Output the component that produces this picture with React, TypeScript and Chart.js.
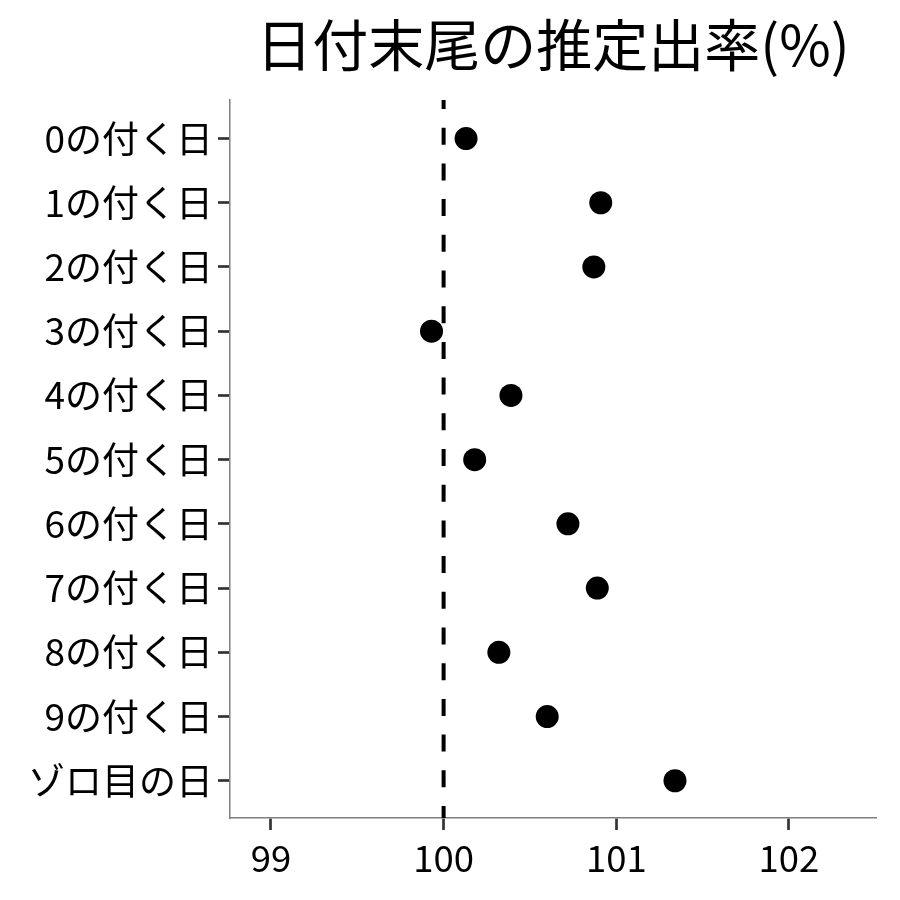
import { useEffect, useRef } from "react";
import { Chart, registerables } from "chart.js";

Chart.register(...registerables);

// data
const categories = [
  "0の付く日",
  "1の付く日",
  "2の付く日",
  "3の付く日",
  "4の付く日",
  "5の付く日",
  "6の付く日",
  "7の付く日",
  "8の付く日",
  "9の付く日",
  "ゾロ目の日",
];
const rates = [100.13, 100.91, 100.87, 99.93, 100.39, 100.18, 100.72, 100.89, 100.32, 100.6, 101.34];
const xTickValues = [99, 100, 101, 102];
const baseline = 100;

const FONT = "'Noto Sans CJK JP', 'Noto Sans', sans-serif";

export default function App() {
  const canvasRef = useRef<HTMLCanvasElement>(null);
  const chartRef = useRef<Chart | null>(null);

  useEffect(() => {
    document.body.style.margin = "0";
    const ctx = canvasRef.current?.getContext("2d");
    if (!ctx) return;
    if (chartRef.current) chartRef.current.destroy();

    const yMin = -0.6;
    const yMax = categories.length - 1 + 0.58;

    chartRef.current = new Chart(ctx, {
      type: "scatter",
      data: {
        datasets: [
          {
            label: "rate",
            data: rates.map((v, i) => ({ x: v, y: i })),
            backgroundColor: "#000",
            borderWidth: 0,
            pointRadius: 11.5,
            order: 0,
          },
          {
            type: "line",
            label: "baseline",
            data: [
              { x: baseline, y: yMin },
              { x: baseline, y: yMax },
            ],
            borderColor: "#000",
            borderWidth: 4,
            borderDash: [17, 18.7],
            borderDashOffset: 8,
            pointRadius: 0,
            order: 1,
          } as any,
        ],
      },
      options: {
        responsive: false,
        animation: false,
        devicePixelRatio: 1,
        layout: { padding: { left: 0, right: 24, top: 0, bottom: 0 } },
        plugins: {
          legend: { display: false },
          tooltip: { enabled: false },
          title: {
            display: true,
            text: "日付末尾の推定出率(%)",
            fullSize: false,
            color: "#000",
            font: { family: FONT, size: 56, weight: "normal", lineHeight: 1.2 },
            padding: { top: 11, bottom: 21.8 },
          },
        },
        scales: {
          x: {
            type: "linear",
            min: 98.763,
            max: 102.504,
            afterBuildTicks: (scale: any) => {
              scale.ticks = xTickValues.map((v) => ({ value: v }));
            },
            afterFit: (scale: any) => {
              scale.height = 82;
            },
            grid: {
              display: true,
              drawOnChartArea: false,
              drawTicks: true,
              tickLength: 12,
              tickColor: "#333",
              tickWidth: 2.7,
            },
            border: { display: true, color: "#7f7f7f", width: 1.5 },
            ticks: {
              color: "#000",
              padding: 6,
              font: { family: FONT, size: 36.5 },
              callback: (v: any) => String(v),
            },
          },
          y: {
            type: "linear",
            min: yMin,
            max: yMax,
            reverse: true,
            afterBuildTicks: (scale: any) => {
              scale.ticks = categories.map((_, i) => ({ value: i }));
            },
            afterFit: (scale: any) => {
              scale.width = 230;
            },
            grid: {
              display: true,
              drawOnChartArea: false,
              drawTicks: true,
              tickLength: 12,
              tickColor: "#333",
              tickWidth: 2.7,
            },
            border: { display: true, color: "#7f7f7f", width: 1.5 },
            ticks: {
              color: "#000",
              padding: 5,
              font: { family: FONT, size: 37 },
              callback: (v: any) => categories[Math.round(Number(v))] ?? "",
            },
          },
        },
      },
    });

    return () => {
      if (chartRef.current) {
        chartRef.current.destroy();
        chartRef.current = null;
      }
    };
  }, []);

  return (
    <div style={{ width: "900px", height: "900px", background: "#fff" }}>
      <canvas ref={canvasRef} width={900} height={900} />
    </div>
  );
}
